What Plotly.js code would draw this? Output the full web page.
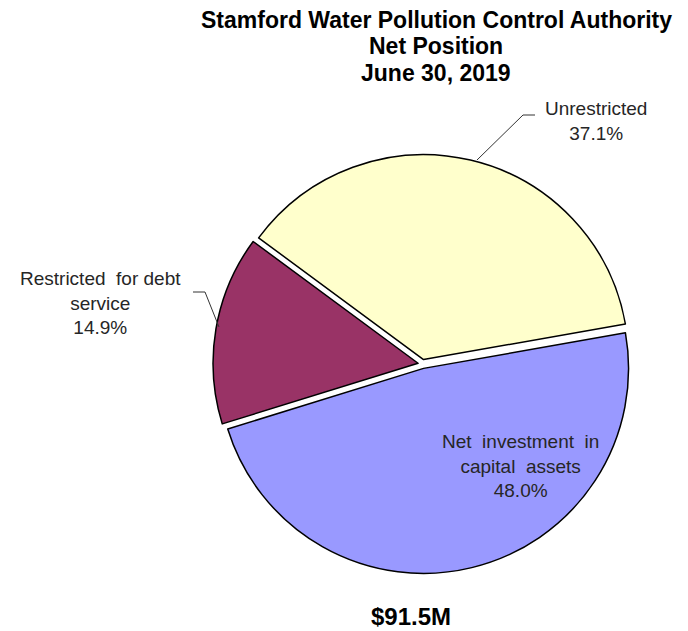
<!DOCTYPE html>
<html>
<head>
<meta charset="utf-8">
<script src="https://cdn.plot.ly/plotly-3.0.1.min.js"></script>
<style>html,body{margin:0;padding:0;background:#fff;}#chart{width:688px;height:631px;}</style>
</head>
<body>
<div id="chart"></div>
<script>
const categories = ["Net investment in capital assets", "Restricted for debt service", "Unrestricted"];
const labelText = ["Net&nbsp;&nbsp;investment&nbsp;&nbsp;in<br>capital&nbsp;&nbsp;assets", "Restricted&nbsp;&nbsp;for debt<br>service", "Unrestricted"];
const shares = [48.0, 14.9, 37.1];
const colors = ["#9999FF", "#993366", "#FFFFCC"];
const totalLabel = "$91.5M";
const titleLines = ["Stamford Water Pollution Control Authority", "Net Position", "June 30, 2019"];

const W = 688, H = 631;
const px = x => x / W;
const py = y => 1 - y / H;

const font = "'Liberation Sans', Arial, sans-serif";
const labelColor = "#262626";
const pct = v => v.toFixed(1) + "%";

const trace = {
  type: "pie",
  values: shares,
  labels: categories,
  marker: { colors: colors, line: { color: "#000000", width: 1.5 } },
  sort: false,
  direction: "clockwise",
  rotation: 80,
  pull: [0.022, 0.022, 0.022],
  textinfo: "none",
  hoverinfo: "label+percent",
  showlegend: false,
  domain: { x: [px(213), px(632)], y: [py(574), py(154)] }
};

const annotations = [
  { text: labelText[0] + "<br>" + pct(shares[0]), x: px(520), y: py(466), xanchor: "center", yanchor: "middle" },
  { text: labelText[1] + "<br>" + pct(shares[1]), x: px(100), y: py(303), xanchor: "center", yanchor: "middle" },
  { text: labelText[2] + "<br>" + pct(shares[2]), x: px(596), y: py(121), xanchor: "center", yanchor: "middle" }
].map(a => Object.assign({ xref: "paper", yref: "paper", showarrow: false, align: "center",
  font: { family: font, size: 19, color: labelColor } }, a));

const titleY = [20, 46, 73];
titleLines.forEach((t, i) => annotations.push({
  text: "<b>" + t + "</b>", xref: "paper", yref: "paper", x: px(436), y: py(titleY[i]),
  xanchor: "center", yanchor: "middle", showarrow: false,
  font: { family: font, size: 23, color: "#000000" }
}));

annotations.push({
  text: "<b>" + totalLabel + "</b>", xref: "paper", yref: "paper", x: px(411), y: py(616),
  xanchor: "center", yanchor: "middle", showarrow: false,
  font: { family: font, size: 24, color: "#000000" }
});

const lineStyle = { color: "#333333", width: 1 };
function seg(x0, y0, x1, y1) {
  return { type: "line", xref: "paper", yref: "paper", x0: px(x0), y0: py(y0), x1: px(x1), y1: py(y1), line: lineStyle };
}
const leaders = [
  seg(477, 160, 523, 115), seg(523, 115, 535, 115),
  seg(193, 292, 205, 292), seg(205, 292, 219, 327)
];

const layout = {
  width: W, height: H,
  margin: { l: 0, r: 0, t: 0, b: 0 },
  paper_bgcolor: "#ffffff",
  annotations: annotations,
  shapes: leaders
};

Plotly.newPlot("chart", [trace], layout, { displayModeBar: false, staticPlot: true });
</script>
</body>
</html>
